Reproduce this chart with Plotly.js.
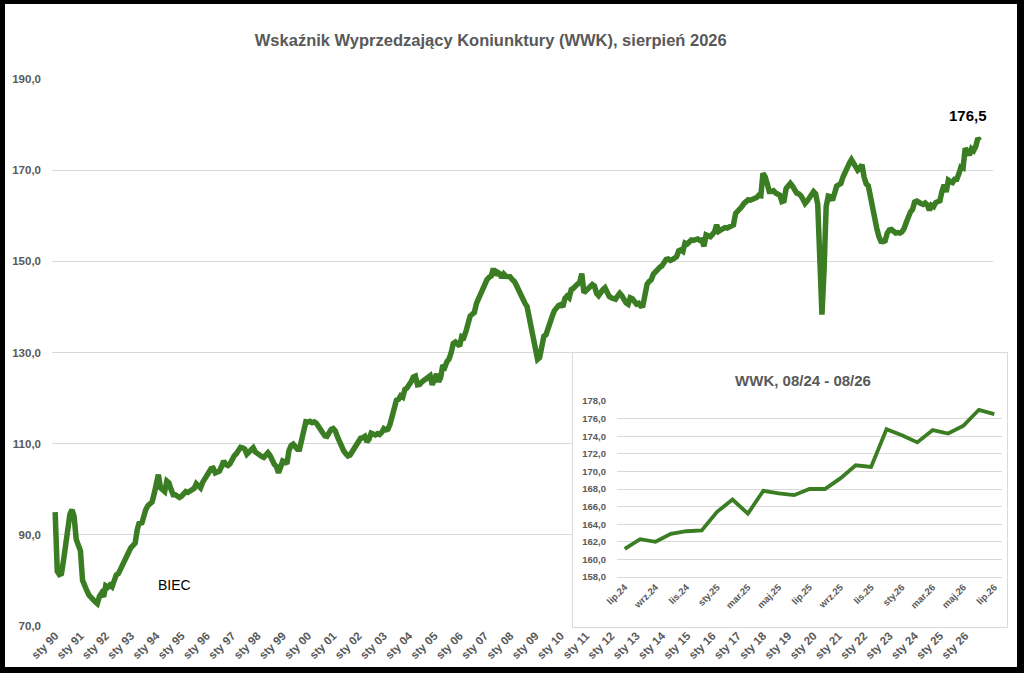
<!DOCTYPE html>
<html>
<head>
<meta charset="utf-8">
<script src="https://cdn.plot.ly/plotly-3.0.1.min.js"></script>
<style>
  body { margin: 0; background: #000; width: 1024px; height: 673px; overflow: hidden; }
  #mainDiv { position: absolute; left: 5px; top: 4px; width: 1012px; height: 663px; background: #fff; }
  #insetDiv { position: absolute; left: 572px; top: 352px; width: 434px; height: 274px; border: 1px solid #d9d9d9; background: #fff; }
</style>
</head>
<body>
<div id="mainDiv"></div>
<div id="insetDiv"></div>
<script>
// WWK monthly values, sty 1990 - sie 2026
const wwk1990s = [
  95.0, 82.0, 81.3, 81.5, 84.5, 87.5, 90.0, 94.5, 95.5, 94.0, 89.0, 88.0,
  86.5, 80.0, 78.5, 77.8, 76.8, 76.0, 75.8, 75.3, 74.9, 76.5, 77.2, 76.4,
  78.8, 78.5, 79.0, 78.6, 80.5, 81.2, 81.5, 82.5, 84.0, 84.8, 85.6, 86.3,
  87.2, 87.8, 88.2, 91.2, 92.8, 92.3, 94.5, 95.5, 96.4, 96.8, 97.2, 99.0,
  101.0, 103.2, 100.3, 99.8, 99.5, 101.8, 101.4, 100.0, 98.8, 98.8, 98.4, 98.2,
  98.5, 98.9, 99.5, 99.3, 99.6, 99.8, 100.2, 101.2, 100.6, 100.3, 101.5, 102.2,
  102.8, 103.5, 104.5, 104.6, 103.6, 103.8, 104.0, 105.0, 106.2, 105.4, 105.2, 105.6,
  106.7, 107.3, 107.8, 108.4, 109.2, 109.1, 108.8, 107.7, 108.2, 108.9, 109.1, 108.2,
  107.8, 107.5, 107.2, 107.0, 107.4, 108.0, 107.4, 106.2, 105.5, 105.0, 103.6, 104.8,
  106.2, 106.0, 105.6, 108.5, 109.6, 109.9, 109.2, 108.8, 108.8, 111.0, 113.6, 114.8,
];
const wwk2000s = [
  114.7, 114.9, 114.6, 114.8, 114.5, 113.8, 113.0, 112.4, 111.7, 111.6, 112.5, 113.1,
  113.3, 112.8, 111.5, 110.2, 109.0, 108.4, 107.8, 107.3, 107.5, 108.3, 108.7, 109.6,
  110.6, 111.2, 111.3, 111.6, 110.4, 111.0, 112.3, 112.1, 111.9, 112.2, 112.0, 112.5,
  113.3, 113.0, 113.2, 114.3, 116.0, 118.2, 119.5, 119.7, 120.5, 120.2, 121.9, 122.2,
  122.7, 123.6, 124.6, 124.8, 122.9, 123.0, 123.5, 123.8, 124.0, 124.4, 124.9, 122.9,
  124.0, 125.3, 123.6, 124.5, 127.2, 126.8, 128.0, 128.6, 130.0, 132.0, 132.3, 131.6,
  131.4, 133.5, 133.3, 134.6, 136.0, 138.0, 138.4, 138.8, 140.8, 141.8, 143.0, 144.0,
  145.3, 146.0, 146.5, 146.8, 148.4, 147.0, 147.6, 147.3, 146.4, 147.2, 146.7, 146.6,
  146.6, 146.0, 145.6, 144.7, 143.6, 142.6, 141.6, 140.8, 140.1, 137.5, 135.2, 133.5,
  130.8, 128.5, 128.9, 131.5, 133.6, 133.9, 135.6, 136.9, 138.0, 139.2, 140.0, 140.3,
];
const wwk2010s = [
  140.5, 140.0, 141.9, 142.4, 142.0, 143.8, 144.1, 144.8, 145.0, 145.4, 147.3, 143.1,
  143.6, 144.0, 144.5, 144.9, 144.6, 143.0, 142.5, 143.3, 143.8, 144.2, 143.2, 142.3,
  142.0, 141.8, 141.7, 142.4, 143.0, 142.5, 141.6, 140.9, 140.6, 142.0, 141.8, 140.9,
  140.6, 140.8, 140.2, 140.3, 143.5, 145.0, 145.6, 146.0, 147.2, 147.8, 148.3, 148.7,
  149.0, 149.6, 150.4, 150.5, 150.2, 150.4, 150.7, 151.0, 152.3, 152.5, 152.2, 154.0,
  153.8, 154.2, 154.7, 154.6, 154.8, 154.9, 154.6, 154.7, 153.3, 155.8, 155.6, 155.4,
  155.9, 156.5, 158.0, 156.6, 156.9, 157.2, 157.4, 157.3, 157.6, 157.8, 158.0, 160.5,
  160.9, 161.4, 162.0, 162.7, 163.0, 163.5, 163.4, 163.6, 163.5, 164.0, 164.5, 164.4,
  169.3, 168.6, 167.0, 165.3, 165.3, 165.5, 165.0, 164.8, 164.5, 163.1, 163.3, 166.0,
  166.8, 167.1, 166.5, 165.5, 165.0, 164.8, 164.4, 163.6, 162.7, 163.2, 163.8, 164.6,
];
const wwk2020s = [
  165.3, 164.8, 162.5, 150.5, 138.3, 148.0, 162.0, 164.3, 164.2, 163.4, 165.3, 166.5,
  166.8, 167.1, 168.5, 169.8, 170.7, 171.5, 172.3, 171.5, 170.9, 170.0, 170.4, 171.2,
  168.5, 167.0, 166.6, 164.0, 161.5, 159.5, 157.3, 155.5, 154.4, 154.3, 154.5, 156.2,
  156.9, 157.0, 156.5, 156.2, 156.3, 156.2, 156.5, 157.2, 158.5, 159.9, 160.8, 161.4,
  163.0, 163.2, 162.8, 162.7, 162.5, 162.8, 162.4, 161.2, 162.3, 162.0, 162.9, 163.2,
  163.3, 165.4, 166.8, 165.2, 167.8, 167.5, 167.3, 168.0, 168.0, 169.2, 170.7, 170.5,
  174.8, 174.1, 173.3, 174.7, 174.3, 175.2, 177.0, 176.5,
];

const yearLabels = [
  "sty 90", "sty 91", "sty 92", "sty 93", "sty 94", "sty 95", "sty 96", "sty 97",
  "sty 98", "sty 99", "sty 00", "sty 01", "sty 02", "sty 03", "sty 04", "sty 05",
  "sty 06", "sty 07", "sty 08", "sty 09", "sty 10", "sty 11", "sty 12", "sty 13",
  "sty 14", "sty 15", "sty 16", "sty 17", "sty 18", "sty 19", "sty 20", "sty 21",
  "sty 22", "sty 23", "sty 24", "sty 25", "sty 26",
];

// inset: last 25 months
const insetMonths = [
  "lip.24", "sie.24", "wrz.24", "paź.24", "lis.24", "gru.24", "sty.25", "lut.25",
  "mar.25", "kwi.25", "maj.25", "cze.25", "lip.25", "sie.25", "wrz.25", "paź.25",
  "lis.25", "gru.25", "sty.26", "lut.26", "mar.26", "kwi.26", "maj.26", "cze.26", "lip.26",
];

const wwk = wwk1990s.concat(wwk2000s, wwk2010s, wwk2020s);
const months = wwk.map((v, i) => i);
const insetVals = wwk.slice(-insetMonths.length);
const insetX = insetVals.map((v, i) => i);

const lineColor = "#3b7d23";
const gridColor = "#d9d9d9";
const labelColor = "#595959";
const fontFam = "Liberation Sans, Arial, sans-serif";

// main chart
let mainTrace = {
  x: months,
  y: wwk,
  type: "scatter",
  mode: "lines",
  line: { color: lineColor, width: 5.5 },
  hoverinfo: "skip",
};

let lastVal = wwk[wwk.length - 1];

let mainLayout = {
  width: 1012,
  height: 663,
  paper_bgcolor: "#fff",
  plot_bgcolor: "#fff",
  separators: ", ",
  showlegend: false,
  margin: { l: 47, r: 24, t: 75, b: 41 },
  title: {
    text: "<b>Wskaźnik Wyprzedzający Koniunktury (WWK), sierpień 2026</b>",
    font: { family: fontFam, size: 16.5, color: labelColor },
    x: 0.48,
    xref: "container",
    y: 0.946,
    yanchor: "middle",
  },
  xaxis: {
    range: [-1.5, 445.2],
    tickvals: yearLabels.map((t, i) => i * 12),
    ticktext: yearLabels,
    tickangle: -45,
    showgrid: false,
    zeroline: false,
    showline: false,
    ticks: "",
    tickfont: { family: fontFam, size: 11.5, color: labelColor, weight: "bold" },
  },
  yaxis: {
    range: [70, 190],
    tick0: 70,
    dtick: 20,
    tickformat: ".1f",
    showgrid: true,
    gridcolor: gridColor,
    gridwidth: 1,
    zeroline: false,
    showline: false,
    ticklabelstandoff: 10,
    tickfont: { family: fontFam, size: 11.5, color: labelColor, weight: "bold" },
  },
  annotations: [
    {
      x: months[months.length - 1],
      y: lastVal,
      xref: "x",
      yref: "y",
      text: "<b>" + lastVal.toFixed(1).replace(".", ",") + "</b>",
      showarrow: false,
      xshift: -12,
      yshift: 25,
      font: { family: fontFam, size: 15, color: "#000" },
    },
    {
      x: 56.5,
      y: 79,
      xref: "x",
      yref: "y",
      text: "BIEC",
      showarrow: false,
      font: { family: fontFam, size: 14, color: "#000" },
    },
  ],
};

Plotly.newPlot("mainDiv", [mainTrace], mainLayout, { staticPlot: true });

// inset chart
let insetTrace = {
  x: insetX,
  y: insetVals,
  type: "scatter",
  mode: "lines",
  line: { color: lineColor, width: 3.8 },
  hoverinfo: "skip",
};

let insetTicks = insetX.filter((i) => i % 2 === 0);

let insetLayout = {
  width: 434,
  height: 274,
  paper_bgcolor: "#fff",
  plot_bgcolor: "#fff",
  separators: ", ",
  showlegend: false,
  margin: { l: 44, r: 5, t: 48, b: 50 },
  title: {
    text: "<b>WWK, 08/24 - 08/26</b>",
    font: { family: fontFam, size: 15, color: labelColor },
    x: 0.53,
    xref: "container",
    y: 0.9,
    yanchor: "middle",
  },
  xaxis: {
    range: [-0.5, 24.5],
    tickvals: insetTicks,
    ticktext: insetTicks.map((i) => insetMonths[i]),
    tickangle: -45,
    showgrid: false,
    zeroline: false,
    showline: true,
    linecolor: gridColor,
    ticks: "",
    tickfont: { family: fontFam, size: 9.5, color: labelColor, weight: "bold" },
  },
  yaxis: {
    range: [158, 178],
    tick0: 158,
    dtick: 2,
    tickformat: ".1f",
    showgrid: true,
    gridcolor: gridColor,
    zeroline: false,
    showline: false,
    ticklabelstandoff: 10,
    tickfont: { family: fontFam, size: 9.5, color: labelColor, weight: "bold" },
  },
};

Plotly.newPlot("insetDiv", [insetTrace], insetLayout, { staticPlot: true });
</script>
</body>
</html>
